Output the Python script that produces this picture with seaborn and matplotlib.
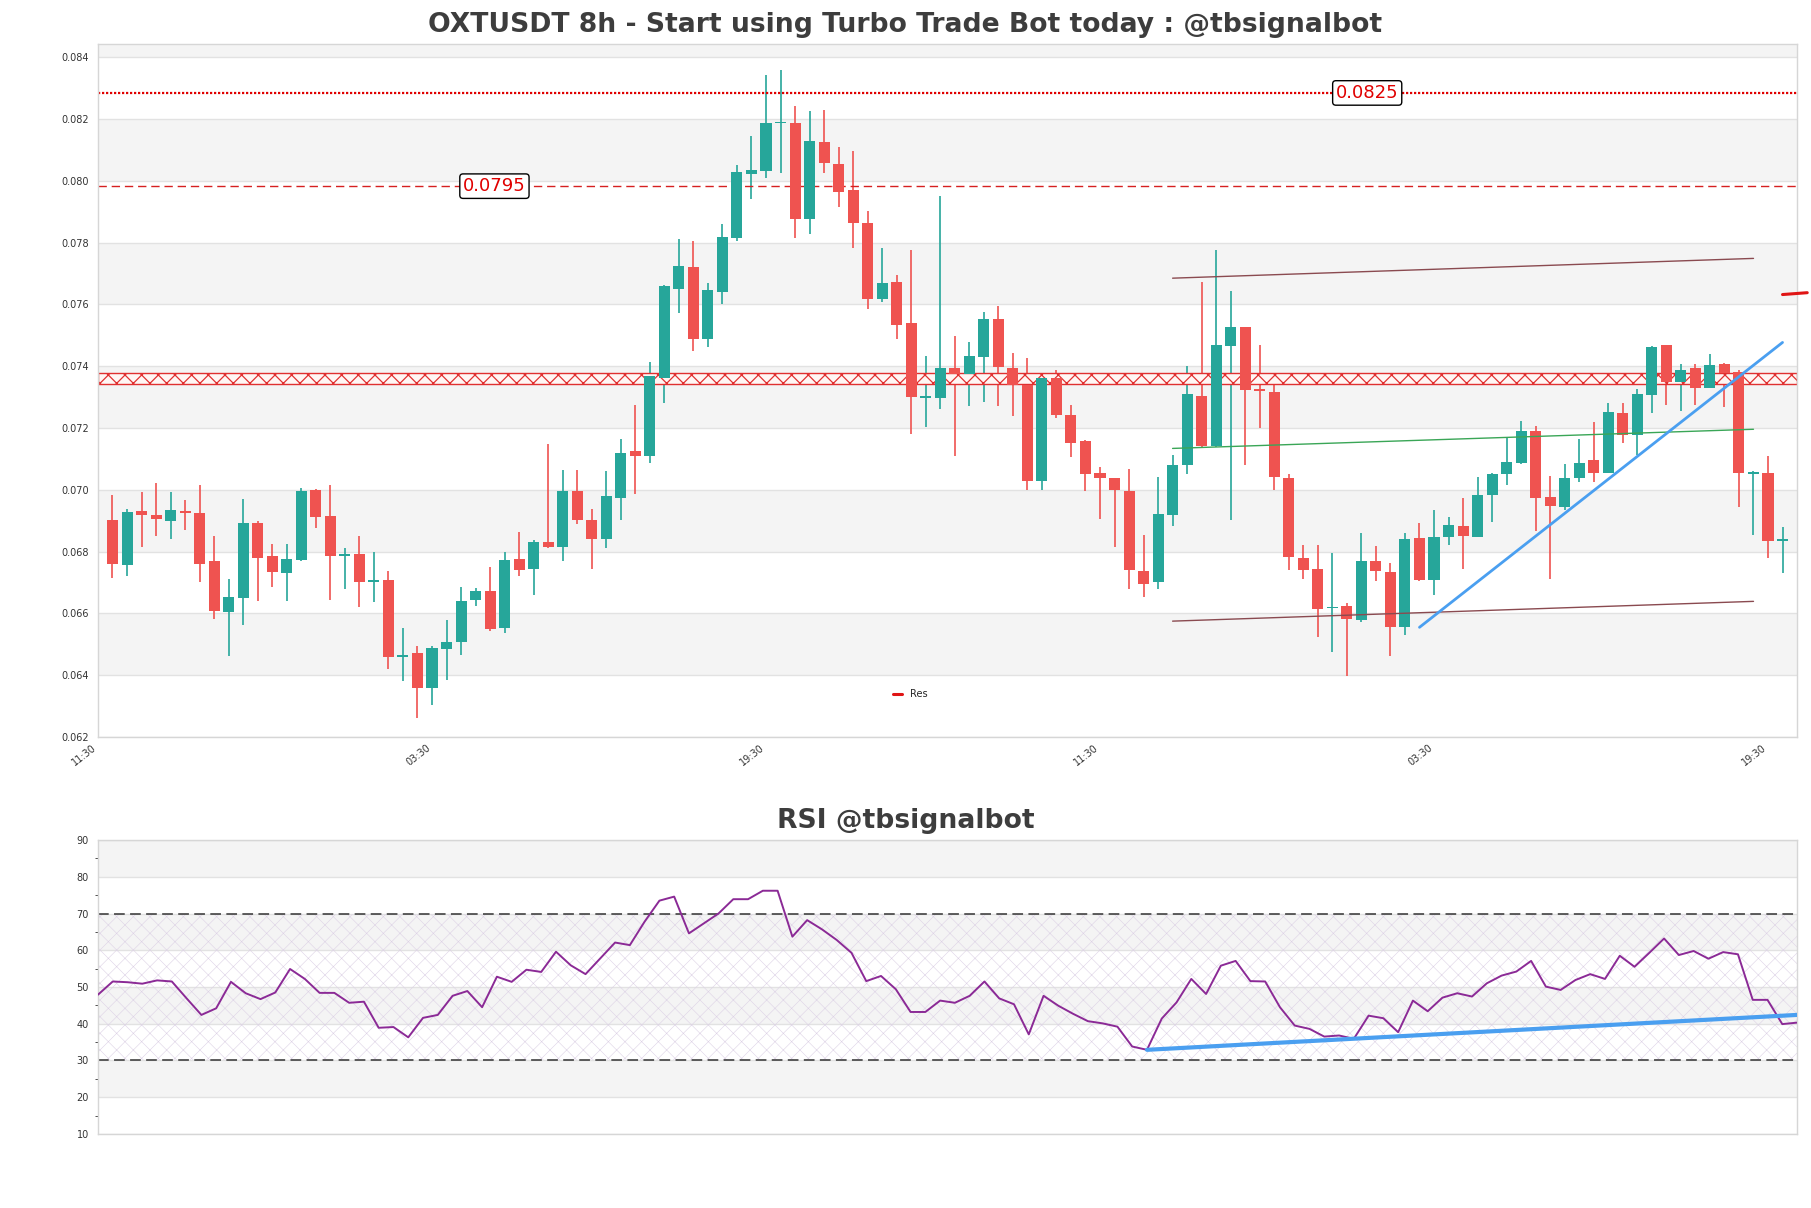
import numpy as np
import pandas as pd
import matplotlib
matplotlib.use("Agg")
import matplotlib.pyplot as plt
import seaborn as sns
from matplotlib.ticker import MultipleLocator, AutoMinorLocator, FixedLocator, FormatStrFormatter

# ---------------- data ----------------
opens = [0.06903, 0.06756, 0.06932, 0.06919, 0.06900, 0.06929, 0.06925, 0.06769, 0.06603, 0.06649,
         0.06891, 0.06786, 0.06730, 0.06773, 0.07000, 0.06916, 0.06787, 0.06793, 0.06701, 0.06708,
         0.06458, 0.06473, 0.06357, 0.06484, 0.06506, 0.06642, 0.06673, 0.06553, 0.06776, 0.06743,
         0.06832, 0.06816, 0.06997, 0.06903, 0.06842, 0.06975, 0.07125, 0.07111, 0.07362, 0.07651,
         0.07722, 0.07489, 0.07641, 0.07814, 0.08023, 0.08032, 0.08186, 0.08186, 0.07877, 0.08126,
         0.08056, 0.07970, 0.07863, 0.07618, 0.07672, 0.07541, 0.07297, 0.07296, 0.07394, 0.07375,
         0.07430, 0.07553, 0.07394, 0.07339, 0.07030, 0.07362, 0.07242, 0.07158, 0.07054, 0.07037,
         0.06997, 0.06738, 0.06701, 0.06917, 0.07079, 0.07304, 0.07143, 0.07467, 0.07527, 0.07324,
         0.07317, 0.07037, 0.06780, 0.06743, 0.06616, 0.06624, 0.06578, 0.06770, 0.06734, 0.06556,
         0.06844, 0.06708, 0.06848, 0.06883, 0.06847, 0.06982, 0.07052, 0.07086, 0.07190, 0.06978,
         0.06946, 0.07037, 0.07095, 0.07053, 0.07248, 0.07176, 0.07306, 0.07469, 0.07349, 0.07394,
         0.07330, 0.07407, 0.07381, 0.07052, 0.07054, 0.06835]
highs = [0.06982, 0.06939, 0.06994, 0.07023, 0.06994, 0.06968, 0.07014, 0.06852, 0.06712, 0.06971,
         0.06900, 0.06824, 0.06824, 0.07007, 0.07004, 0.07014, 0.06812, 0.06850, 0.06798, 0.06737,
         0.06552, 0.06496, 0.06496, 0.06578, 0.06686, 0.06682, 0.06751, 0.06799, 0.06862, 0.06838,
         0.07148, 0.07065, 0.07065, 0.06939, 0.07062, 0.07163, 0.07274, 0.07415, 0.07662, 0.07811,
         0.07805, 0.07668, 0.07860, 0.08051, 0.08146, 0.08342, 0.08360, 0.08243, 0.08227, 0.08228,
         0.08111, 0.08095, 0.07903, 0.07782, 0.07696, 0.07775, 0.07433, 0.07950, 0.07498, 0.07479,
         0.07576, 0.07596, 0.07443, 0.07427, 0.07362, 0.07387, 0.07274, 0.07161, 0.07073, 0.07037,
         0.07066, 0.06855, 0.07043, 0.07112, 0.07400, 0.07671, 0.07776, 0.07644, 0.07527, 0.07469,
         0.07339, 0.07052, 0.06822, 0.06822, 0.06795, 0.06633, 0.06861, 0.06819, 0.06763, 0.06861,
         0.06893, 0.06935, 0.06913, 0.06974, 0.07042, 0.07056, 0.07167, 0.07223, 0.07206, 0.07044,
         0.07083, 0.07166, 0.07220, 0.07281, 0.07281, 0.07326, 0.07466, 0.07469, 0.07407, 0.07408,
         0.07440, 0.07410, 0.07387, 0.07062, 0.07109, 0.06881]
lows = [0.06714, 0.06722, 0.06816, 0.06852, 0.06842, 0.06871, 0.06701, 0.06582, 0.06463, 0.06561,
        0.06639, 0.06684, 0.06639, 0.06769, 0.06877, 0.06642, 0.06679, 0.06621, 0.06636, 0.06419,
        0.06380, 0.06260, 0.06304, 0.06383, 0.06467, 0.06624, 0.06542, 0.06535, 0.06722, 0.06660,
        0.06812, 0.06769, 0.06888, 0.06744, 0.06813, 0.06901, 0.06987, 0.07086, 0.07281, 0.07571,
        0.07449, 0.07462, 0.07603, 0.07805, 0.07941, 0.08010, 0.08026, 0.07815, 0.07827, 0.08025,
        0.07916, 0.07784, 0.07586, 0.07609, 0.07489, 0.07182, 0.07203, 0.07261, 0.07109, 0.07271,
        0.07285, 0.07271, 0.07238, 0.07001, 0.07001, 0.07231, 0.07105, 0.06995, 0.06907, 0.06815,
        0.06679, 0.06652, 0.06678, 0.06884, 0.07050, 0.07135, 0.07138, 0.06901, 0.07079, 0.07199,
        0.07001, 0.06740, 0.06711, 0.06523, 0.06474, 0.06398, 0.06571, 0.06705, 0.06463, 0.06530,
        0.06704, 0.06660, 0.06822, 0.06744, 0.06847, 0.06896, 0.07016, 0.07082, 0.06868, 0.06711,
        0.06935, 0.07026, 0.07026, 0.07053, 0.07151, 0.07112, 0.07248, 0.07274, 0.07254, 0.07275,
        0.07330, 0.07268, 0.06943, 0.06855, 0.06780, 0.06730]
closes = [0.06761, 0.06929, 0.06917, 0.06904, 0.06935, 0.06926, 0.06761, 0.06607, 0.06653, 0.06891,
          0.06780, 0.06733, 0.06776, 0.06997, 0.06913, 0.06787, 0.06790, 0.06701, 0.06708, 0.06458,
          0.06467, 0.06360, 0.06487, 0.06509, 0.06639, 0.06673, 0.06548, 0.06773, 0.06740, 0.06832,
          0.06816, 0.06997, 0.06901, 0.06842, 0.06981, 0.07119, 0.07108, 0.07368, 0.07659, 0.07724,
          0.07489, 0.07646, 0.07818, 0.08028, 0.08035, 0.08186, 0.08189, 0.07877, 0.08129, 0.08058,
          0.07964, 0.07864, 0.07616, 0.07670, 0.07535, 0.07301, 0.07304, 0.07394, 0.07375, 0.07433,
          0.07553, 0.07398, 0.07340, 0.07030, 0.07362, 0.07241, 0.07153, 0.07050, 0.07037, 0.06998,
          0.06740, 0.06696, 0.06922, 0.07080, 0.07310, 0.07143, 0.07469, 0.07527, 0.07322, 0.07319,
          0.07040, 0.06783, 0.06741, 0.06614, 0.06621, 0.06582, 0.06770, 0.06737, 0.06556, 0.06841,
          0.06708, 0.06848, 0.06887, 0.06851, 0.06984, 0.07052, 0.07091, 0.07190, 0.06975, 0.06949,
          0.07039, 0.07086, 0.07054, 0.07252, 0.07176, 0.07309, 0.07462, 0.07349, 0.07387, 0.07330,
          0.07404, 0.07378, 0.07054, 0.07057, 0.06834, 0.06841]

rsi = [47.9, 51.5, 51.3, 50.9, 51.8, 51.5, 46.9, 42.4, 44.2, 51.4,
       48.3, 46.7, 48.5, 54.9, 52.2, 48.4, 48.4, 45.7, 46.0, 38.9,
       39.1, 36.3, 41.6, 42.4, 47.6, 48.9, 44.5, 52.8, 51.4, 54.7,
       54.1, 59.6, 55.9, 53.5, 57.8, 62.1, 61.4, 67.8, 73.5, 74.6,
       64.6, 67.3, 70.0, 73.9, 73.9, 76.2, 76.2, 63.7, 68.2, 65.7,
       62.8, 59.3, 51.6, 53.0, 49.4, 43.2, 43.2, 46.3, 45.7, 47.6,
       51.5, 46.9, 45.3, 37.1, 47.6, 44.9, 42.7, 40.7, 40.1, 39.2,
       33.8, 32.9, 41.4, 45.8, 52.2, 48.1, 55.8, 57.1, 51.6, 51.5,
       44.5, 39.5, 38.6, 36.5, 36.8, 35.9, 42.2, 41.5, 37.7, 46.3,
       43.4, 47.1, 48.3, 47.4, 51.0, 53.1, 54.2, 57.1, 50.1, 49.2,
       51.9, 53.5, 52.2, 58.5, 55.5, 59.3, 63.2, 58.7, 59.8, 57.7,
       59.5, 58.9, 46.5, 46.5, 39.9, 40.3]

tick_pos = [-1, 22, 45, 68, 91, 114]
tick_labels = ["11:30", "03:30", "19:30", "11:30", "03:30", "19:30"]

res_strong = 0.082845
res_label_strong = "0.0825"
res_weak = 0.079828
res_label_weak = "0.0795"
zone_low, zone_high = 0.073432, 0.073793

chan_x = [73, 113]
chan_upper = [0.07685, 0.07749]
chan_mid = [0.07134, 0.07196]
chan_lower = [0.06575, 0.06639]
trend_x = [90, 115]
trend_y = [0.06555, 0.07477]
res_x = [115, 116.7]
res_y = [0.07632, 0.07638]
rsi_trend_x = [71, 115]
rsi_trend_y = [32.9, 42.4]

title_main = "OXTUSDT 8h - Start using Turbo Trade Bot today : @tbsignalbot"
title_rsi = "RSI @tbsignalbot"

# ---------------- style ----------------
sns.set_theme(style="white")
plt.rcParams["font.family"] = ["DejaVu Sans"]

GREEN = "#26a69a"
RED = "#ef5350"
SHADE = "#f4f4f4"
GRID = "#e2e2e2"
SPINE = "#d6d6d6"
TXT = "#333333"

df = pd.DataFrame({"open": opens, "high": highs, "low": lows, "close": closes})
df["x"] = np.arange(len(df))
df["up"] = df["close"] >= df["open"]

fig = plt.figure(figsize=(18.11, 12.08), dpi=100)
ax = fig.add_axes([0.0541, 0.3899, 0.9382, 0.5737])
ax2 = fig.add_axes([0.0541, 0.0613, 0.9382, 0.2433])

# ---- main panel ----
ax.set_xlim(-1, 116)
ax.set_ylim(0.062, 0.08443)
for k in range(12):
    if k % 2 == 1:
        ax.axhspan(0.062 + 0.002 * k, 0.062 + 0.002 * (k + 1), color=SHADE, zorder=0, lw=0)
ax.yaxis.set_major_locator(MultipleLocator(0.002))
ax.yaxis.set_major_formatter(FormatStrFormatter("%.3f"))
ax.grid(axis="y", color=GRID, lw=1, zorder=0.5)
ax.grid(axis="x", visible=False)

cols = np.where(df["up"], GREEN, RED)
ax.vlines(df["x"], df["low"], df["high"], colors=cols, lw=1.2, zorder=2)
body_bottom = np.minimum(df["open"], df["close"])
body_h = np.maximum(np.abs(df["close"] - df["open"]), 0.00006)
ax.bar(df["x"], body_h, bottom=body_bottom, width=0.76, color=cols, lw=0, zorder=3)

ax.axhline(res_strong, color="#e00000", lw=1.6, ls=(0, (1, 0.8)), zorder=2.5)
ax.axhline(res_weak, color="#d62020", lw=1.0, ls=(0, (6, 3.5)), zorder=2.5)
plt.rcParams["hatch.linewidth"] = 0.9
ax.axhspan(zone_low, zone_high, facecolor="#fff6f4", edgecolor="#e03030", hatch="xx", lw=1.0, zorder=2.4)

box = dict(boxstyle="round,pad=0.18", fc="white", ec="black", lw=1)
ax.text(26.3, res_weak, res_label_weak, color="#e00000", fontsize=13, ha="center", va="center", bbox=box, zorder=5)
ax.text(86.4, res_strong, res_label_strong, color="#e00000", fontsize=13, ha="center", va="center", bbox=box, zorder=5)

sns.lineplot(x=chan_x, y=chan_upper, ax=ax, color="#8a4a50", lw=1.0, zorder=4)
sns.lineplot(x=chan_x, y=chan_lower, ax=ax, color="#8a4a50", lw=1.0, zorder=4)
sns.lineplot(x=chan_x, y=chan_mid, ax=ax, color="#3aa657", lw=1.0, zorder=4)
sns.lineplot(x=trend_x, y=trend_y, ax=ax, color="#4a9ff0", lw=2.0, zorder=4)
ax.plot(res_x, res_y, color="#e01515", lw=2.2, clip_on=False, zorder=6, label="Res")
ax.legend(loc="center", bbox_to_anchor=(0.478, 0.062), frameon=False, fontsize=7,
          handlelength=1.0, handletextpad=0.8)

ax.xaxis.set_major_locator(FixedLocator(tick_pos))
ax.set_xticklabels(tick_labels, rotation=38, ha="right")
ax.tick_params(axis="both", labelsize=7, colors=TXT, length=3, width=0.6, direction="out")
ax.tick_params(axis="x", pad=1)
for s in ax.spines.values():
    s.set_color(SPINE)
    s.set_linewidth(1)
ax.set_xlabel("")
ax.set_ylabel("")

# ---- RSI panel ----
ax2.set_xlim(0, 115)
ax2.set_ylim(10, 90)
for k in range(8):
    if k % 2 == 1:
        ax2.axhspan(10 + 10 * k, 10 + 10 * (k + 1), color=SHADE, zorder=0, lw=0)
ax2.yaxis.set_major_locator(MultipleLocator(10))
ax2.yaxis.set_minor_locator(AutoMinorLocator(2))
ax2.grid(axis="y", which="major", color=GRID, lw=1, zorder=0.5)
ax2.grid(axis="x", visible=False)
plt.rcParams["hatch.linewidth"] = 0.4
ax2.fill_between([0, 115], 30, 70, facecolor="none", edgecolor="#ddd2e6", hatch="xx", lw=0, zorder=0.7)
ax2.axhline(70, color="#333333", lw=1.1, ls=(0, (7, 3.5)), zorder=2)
ax2.axhline(30, color="#333333", lw=1.1, ls=(0, (7, 3.5)), zorder=2)
rsi_df = pd.DataFrame({"x": np.arange(len(rsi)), "rsi": rsi})
sns.lineplot(data=rsi_df, x="x", y="rsi", ax=ax2, color="#8b2a96", lw=1.4, zorder=3)
sns.lineplot(x=rsi_trend_x, y=rsi_trend_y, ax=ax2, color="#4a9ff0", lw=3.0, zorder=4)
ax2.set_xticks([])
ax2.tick_params(axis="y", which="major", labelsize=7, colors=TXT, length=3, width=0.6)
ax2.tick_params(axis="y", which="minor", length=2, width=0.6, colors=TXT, left=True)
for s in ax2.spines.values():
    s.set_color(SPINE)
    s.set_linewidth(1)
ax2.set_xlabel("")
ax2.set_ylabel("")

fig.text(0.5, 0.979, title_main, ha="center", va="center", fontsize=19.2, fontweight="bold", color="#3d3d3d")
fig.text(0.5, 0.3205, title_rsi, ha="center", va="center", fontsize=19.2, fontweight="bold", color="#3d3d3d")

fig.savefig("out.png", dpi=100, facecolor="white")
